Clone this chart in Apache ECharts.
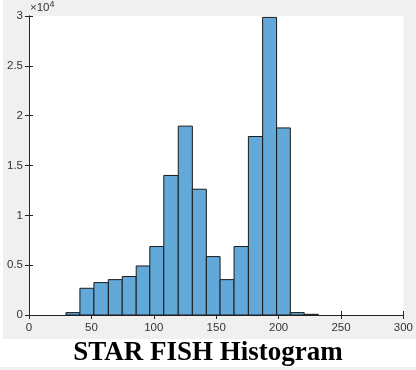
<!DOCTYPE html>
<html>
<head>
<meta charset="utf-8">
<script src="https://cdn.jsdelivr.net/npm/echarts@6/dist/echarts.min.js"></script>
<style>html,body{margin:0;padding:0;background:#fff}#c{width:416px;height:370px}</style>
</head>
<body>
<div id="c"></div>
<script>
// Histogram bin edges (x values) and counts per bin
var binEdges = [29.6, 40.8, 52.0, 63.6, 74.7, 85.9, 96.8, 108.0, 119.6, 130.9, 142.1, 153.1, 164.3, 175.8, 187.2, 198.4, 209.4, 220.5, 231.8];
var counts = [240, 2680, 3250, 3550, 3860, 4920, 6870, 14000, 18950, 12620, 5860, 3550, 6870, 17910, 29860, 18770, 240, 70];
var xTicks = [0, 50, 100, 150, 200, 250, 300];
var yTicks = [0, 0.5, 1, 1.5, 2, 2.5, 3];
var yScale = 1e4;
var titleText = 'STAR FISH Histogram';

var histData = counts.map(function (c, i) { return [binEdges[i], binEdges[i + 1], c]; });

var chart = echarts.init(document.getElementById('c'), null, {renderer: 'canvas'});
var axisCol = '#262626';
var labelStyle = {color: '#333', fontSize: 11.5, fontFamily: 'Liberation Sans, Arial, sans-serif'};
chart.setOption({
  backgroundColor: '#f0f0f0',
  animation: false,
  grid: {left: 29, top: 16, width: 375, height: 299, show: true, backgroundColor: '#fff', borderWidth: 0},
  graphic: [
    {type: 'rect', shape: {x: 0, y: 339, width: 416, height: 28}, style: {fill: '#fff'}, z: -10},
    {type: 'rect', shape: {x: 0, y: 0, width: 3, height: 339}, style: {fill: '#fff'}, z: -10},
    {type: 'text', left: 30, top: 0, style: {text: '×10{s|4}', rich: {s: {fontSize: 9, verticalAlign: 'top', padding: [0,0,7,0]}}, fill: '#333', fontSize: 11.5, fontFamily: 'Liberation Sans, Arial, sans-serif'}},
    {type: 'text', left: 'center', top: 340, style: {text: titleText, fill: '#000', fontSize: 27, fontWeight: 'bold', fontFamily: 'Liberation Serif, Times New Roman, serif'}}
  ],
  xAxis: [
    {type: 'value', min: xTicks[0], max: xTicks[xTicks.length - 1], interval: 50,
     axisLine: {show: true, lineStyle: {color: axisCol, width: 1}},
     axisTick: {show: true, inside: true, length: 4, lineStyle: {color: axisCol}},
     axisLabel: Object.assign({margin: 7}, labelStyle),
     splitLine: {show: false}},
    {type: 'value', position: 'top', min: xTicks[0], max: xTicks[xTicks.length - 1], interval: 50,
     axisLine: {show: true, lineStyle: {color: axisCol, width: 1}},
     axisTick: {show: true, inside: true, length: 4, lineStyle: {color: axisCol}},
     axisLabel: {show: false}, splitLine: {show: false}}
  ],
  yAxis: [
    {type: 'value', min: yTicks[0] * yScale, max: yTicks[yTicks.length - 1] * yScale, interval: 0.5 * yScale,
     axisLine: {show: true, lineStyle: {color: axisCol, width: 1}},
     axisTick: {show: true, inside: true, length: 4, lineStyle: {color: axisCol}},
     axisLabel: Object.assign({margin: 6, formatter: function (v) { return String(v / yScale); }}, labelStyle),
     splitLine: {show: false}},
    {type: 'value', position: 'right', min: yTicks[0] * yScale, max: yTicks[yTicks.length - 1] * yScale, interval: 0.5 * yScale,
     axisLine: {show: true, lineStyle: {color: axisCol, width: 1}},
     axisTick: {show: true, inside: true, length: 4, lineStyle: {color: axisCol}},
     axisLabel: {show: false}, splitLine: {show: false}}
  ],
  series: [{
    type: 'custom',
    xAxisIndex: 0, yAxisIndex: 0,
    data: histData,
    encode: {x: [0, 1], y: 2},
    renderItem: function (params, api) {
      var p0 = api.coord([api.value(0), api.value(2)]);
      var p1 = api.coord([api.value(1), 0]);
      return {
        type: 'rect',
        shape: {x: p0[0], y: p0[1], width: p1[0] - p0[0], height: p1[1] - p0[1]},
        style: {fill: '#62a8d8', stroke: '#1a1a1a', lineWidth: 1}
      };
    }
  }]
});
</script>
</body>
</html>
